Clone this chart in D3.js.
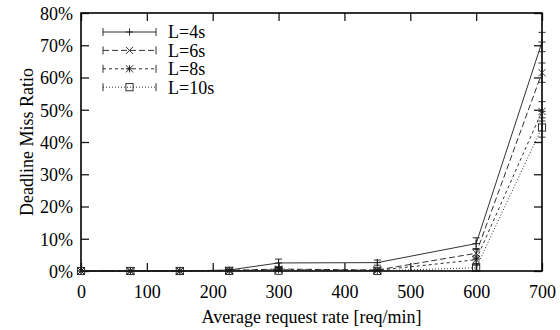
<!DOCTYPE html>
<html>
<head>
<meta charset="utf-8">
<script src="https://cdn.jsdelivr.net/npm/d3@7"></script>
<style>
  html, body { margin: 0; padding: 0; background: #fff; }
  svg { display: block; }
  text { font-family: "Liberation Serif", "DejaVu Serif", serif; fill: #000; }
</style>
</head>
<body>
<svg id="chart" width="560" height="330"></svg>
<script>
// Request rates (req/min) at which the deadline miss ratio was measured
const rates = [0, 75, 150, 225, 300, 450, 600, 700];

// Mean deadline miss ratio (%) and error (+/- %) per deadline length
const missL4   = [0, 0, 0, 0.3, 2.5, 2.6, 8.5, 71];
const errL4    = [0, 0, 0, 0.2, 1.2, 0.8, 1.8, 3.0];
const missL6   = [0, 0, 0, 0.2, 0.6, 0.3, 5.5, 61.5];
const errL6    = [0, 0, 0, 0.1, 0.5, 0.3, 1.5, 3.0];
const missL8   = [0, 0, 0, 0.1, 0.4, 0.2, 3.5, 49.5];
const errL8    = [0, 0, 0, 0.1, 0.4, 0.2, 1.2, 3.0];
const missL10  = [0, 0, 0, 0.05, 0.1, 0.05, 1.0, 44.5];
const errL10   = [0, 0, 0, 0.0, 0.2, 0.1, 0.8, 3.0];

const seriesNames = ["L=4s", "L=6s", "L=8s", "L=10s"];
const xTicks = [0, 100, 200, 300, 400, 500, 600, 700];
const yTicks = [0, 10, 20, 30, 40, 50, 60, 70, 80];

const xTitle = "Average request rate [req/min]";
const yTitle = "Deadline Miss Ratio";

const styles = [
  { dash: null,  marker: "plus" },
  { dash: "6,3", marker: "cross" },
  { dash: "3,3", marker: "star" },
  { dash: "1,2", marker: "box" }
];

const series = [
  { name: seriesNames[0], vals: missL4,  errs: errL4 },
  { name: seriesNames[1], vals: missL6,  errs: errL6 },
  { name: seriesNames[2], vals: missL8,  errs: errL8 },
  { name: seriesNames[3], vals: missL10, errs: errL10 }
].map((s, i) => Object.assign(s, styles[i], {
  pts: rates.map((r, j) => ({ x: r, y: s.vals[j], e: s.errs[j] }))
}));

const svg = d3.select("#chart");
const margin = { left: 81, right: 18, top: 13, bottom: 59 };
const W = 560, H = 330;

const x = d3.scaleLinear().domain([0, 700]).range([margin.left, W - margin.right]);
const y = d3.scaleLinear().domain([0, 80]).range([H - margin.bottom, margin.top]);

const ink = "#1a1a1a";
const tickLen = 8;

// Axes (ticks inward, mirrored on top and right)
const gx = svg.append("g").attr("transform", `translate(0,${y(0)})`)
  .call(d3.axisBottom(x).tickValues(xTicks).tickSize(-tickLen).tickPadding(14).tickFormat(d3.format("d")));
const gxTop = svg.append("g").attr("transform", `translate(0,${y(80)})`)
  .call(d3.axisTop(x).tickValues(xTicks).tickSize(-tickLen).tickFormat(""));
const gy = svg.append("g").attr("transform", `translate(${x(0)},0)`)
  .call(d3.axisLeft(y).tickValues(yTicks).tickSize(-tickLen).tickPadding(8).tickFormat(d => d + "%"));
const gyRight = svg.append("g").attr("transform", `translate(${x(700)},0)`)
  .call(d3.axisRight(y).tickValues(yTicks).tickSize(-tickLen).tickFormat(""));

[gx, gxTop, gy, gyRight].forEach(g => {
  g.select(".domain").remove();
  g.selectAll(".tick line").attr("stroke", ink).attr("stroke-width", 1.3);
  g.selectAll(".tick text").attr("font-size", 18).attr("fill", "#000");
});
gx.selectAll(".tick text").attr("dy", "0.71em");
gy.selectAll(".tick text").attr("dy", "0.35em");

// Border
svg.append("rect")
  .attr("x", x(0)).attr("y", y(80))
  .attr("width", x(700) - x(0)).attr("height", y(0) - y(80))
  .attr("fill", "none").attr("stroke", "#000").attr("stroke-width", 1.6);

// Axis titles
svg.append("text")
  .attr("x", (x(0) + x(700)) / 2).attr("y", 323)
  .attr("text-anchor", "middle").attr("font-size", 18)
  .text(xTitle);
svg.append("text")
  .attr("transform", `translate(33,${(y(0) + y(80)) / 2}) rotate(-90)`)
  .attr("text-anchor", "middle").attr("font-size", 18)
  .text(yTitle);

// Point markers
function drawMarker(g, type, cx, cy) {
  const r = 3.6;
  const st = { stroke: ink, "stroke-width": 0.9, fill: "none" };
  const ln = (x1, y1, x2, y2) => {
    const l = g.append("line").attr("x1", x1).attr("y1", y1).attr("x2", x2).attr("y2", y2);
    Object.entries(st).forEach(([k, v]) => l.attr(k, v));
  };
  if (type === "plus" || type === "star") {
    ln(cx - r, cy, cx + r, cy);
    ln(cx, cy - r, cx, cy + r);
  }
  if (type === "cross" || type === "star") {
    ln(cx - r, cy - r, cx + r, cy + r);
    ln(cx - r, cy + r, cx + r, cy - r);
  }
  if (type === "box") {
    const b = g.append("rect").attr("x", cx - r).attr("y", cy - r)
      .attr("width", 2 * r).attr("height", 2 * r);
    Object.entries(st).forEach(([k, v]) => b.attr(k, v));
  }
}

const line = d3.line().x(d => x(d.x)).y(d => y(d.y));
const capW = 3.5;

series.forEach(s => {
  const g = svg.append("g");
  g.append("path").datum(s.pts)
    .attr("d", line).attr("fill", "none")
    .attr("stroke", ink).attr("stroke-width", 0.9)
    .attr("stroke-dasharray", s.dash);

  // Error bars
  s.pts.forEach(p => {
    if (p.e > 0) {
      const eb = g.append("g").attr("stroke", ink).attr("stroke-width", 0.9);
      eb.append("line").attr("x1", x(p.x)).attr("x2", x(p.x))
        .attr("y1", y(p.y - p.e)).attr("y2", y(p.y + p.e));
      [p.y - p.e, p.y + p.e].forEach(v => {
        eb.append("line").attr("x1", x(p.x) - capW).attr("x2", x(p.x) + capW)
          .attr("y1", y(v)).attr("y2", y(v));
      });
    }
    drawMarker(g, s.marker, x(p.x), y(p.y));
  });
});

// Legend
const legX1 = 103, legX2 = 156, legTextX = 168, legY0 = 32, legDy = 18.4;
series.forEach((s, i) => {
  const cy = legY0 + i * legDy;
  const g = svg.append("g");
  g.append("line").attr("x1", legX1).attr("x2", legX2).attr("y1", cy).attr("y2", cy)
    .attr("stroke", ink).attr("stroke-width", 0.9).attr("stroke-dasharray", s.dash);
  [legX1, legX2].forEach(xx => {
    g.append("line").attr("x1", xx).attr("x2", xx).attr("y1", cy - 4).attr("y2", cy + 4)
      .attr("stroke", ink).attr("stroke-width", 0.9);
  });
  drawMarker(g, s.marker, (legX1 + legX2) / 2, cy);
  g.append("text").attr("x", legTextX).attr("y", cy).attr("dy", "0.35em")
    .attr("font-size", 18).text(s.name);
});
</script>
</body>
</html>
